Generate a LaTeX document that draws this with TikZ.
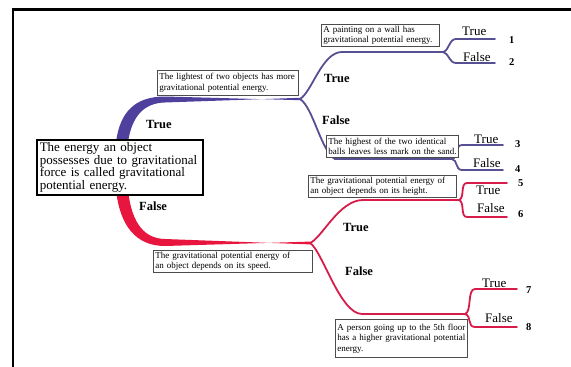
\documentclass[tikz,border=0pt]{standalone}
\usepackage{fontspec}
\setmainfont{Liberation Serif}
\definecolor{deeppurple}{RGB}{80,64,158}
\definecolor{thinpurple}{RGB}{86,80,146}
\definecolor{deepred}{RGB}{232,22,62}
\definecolor{thinred}{RGB}{215,28,74}

\begin{document}
\begin{tikzpicture}[x=1pt, y=-1pt,
		stmt/.style={draw=black!70, line width=0.8pt, fill=white, anchor=north west, inner xsep=2pt, inner ysep=0pt, align=left, font=\fontsize{9}{10.6}\selectfont},
		ans/.style={anchor=base west, inner sep=0pt, font=\fontsize{13}{14}\selectfont},
		branchlbl/.style={anchor=base west, inner sep=0pt, font=\fontsize{12.5}{14}\selectfont\bfseries},
		num/.style={anchor=base west, inner sep=0pt, font=\fontsize{10.5}{12}\selectfont\bfseries},
		thinp/.style={line width=1.8pt, color=thinpurple, line cap=round},
		thinr/.style={line width=1.8pt, color=thinred, line cap=round}]
			%%%%% START %%%%%
			\useasboundingbox (0, 0) rectangle (571, 367);
			
			% frame
			\draw[line width=2.2pt] (13, 367) -- (13, 9.5) -- (571, 9.5);
			
			% split points and leaf ends
			\coordinate (sLight) at (300, 99);
			\coordinate (sPaint) at (443, 52);
			\coordinate (sHigh) at (452, 159);
			\coordinate (sSpeed) at (310, 243);
			\coordinate (sHeight) at (459, 200);
			\coordinate (sFloor) at (465, 314);
			
			\coordinate (e1) at (495, 39);
			\coordinate (e2) at (495, 63);
			\coordinate (e3) at (503, 145);
			\coordinate (e4) at (503, 170);
			\coordinate (e5) at (507, 183);
			\coordinate (e6) at (507, 217);
			\coordinate (e7) at (517, 289);
			\coordinate (e8) at (517, 327);
			
			% thick branches out of the root
			\fill[deeppurple] (116, 142) .. controls (120, 112) and (135, 96.5) .. (165, 96.5) -- ([yshift=-1.2pt]sLight)
				-- ([yshift=1.2pt]sLight) -- (165, 102.5) .. controls (144, 103) and (132, 116) .. (128, 142) -- cycle;
			\fill[deepred] (116, 190) .. controls (120, 226) and (136, 246) .. (165, 246) -- ([yshift=1.4pt]sSpeed)
				-- ([yshift=-1.4pt]sSpeed) -- (165, 239) .. controls (146, 238.5) and (132, 226) .. (128, 190) -- cycle;
			
			% purple side
			\draw[thinp] (sLight) .. controls +(12,-7) and +(-20,0) .. ([xshift=-101pt]sPaint) -- (sPaint);
			\draw[thinp] (sLight) .. controls +(13,8) and +(-14,-8) .. ([xshift=-117pt]sHigh) -- (sHigh);
			\draw[thinp] (sPaint) .. controls +(6,-1) and +(-7,0) .. ([xshift=-39pt]e1) -- (e1);
			\draw[thinp] (sPaint) .. controls +(6,1) and +(-7,0) .. ([xshift=-39pt]e2) -- (e2);
			\draw[thinp] (sHigh) .. controls +(6,-1) and +(-7,0) .. ([xshift=-41pt]e3) -- (e3);
			\draw[thinp] (sHigh) .. controls +(6,1) and +(-7,0) .. ([xshift=-41pt]e4) -- (e4);
			
			% red side
			\draw[thinr] (sSpeed) .. controls +(12,-5) and +(-24,0) .. ([xshift=-96pt]sHeight) -- (sHeight);
			\draw[thinr] (sSpeed) .. controls +(12,7) and +(-22,0) .. ([xshift=-103pt]sFloor) -- (sFloor);
			\draw[thinr] (sHeight) .. controls +(6,-2) and +(-7,0) .. ([xshift=-40pt]e5) -- (e5);
			\draw[thinr] (sHeight) .. controls +(6,2) and +(-7,0) .. ([xshift=-40pt]e6) -- (e6);
			\draw[thinr] (sFloor) .. controls +(7,-2) and +(-8,0) .. ([xshift=-42pt]e7) -- (e7);
			\draw[thinr] (sFloor) .. controls +(7,2) and +(-8,0) .. ([xshift=-42pt]e8) -- (e8);
			
			% statements
			\node[draw=black, line width=1.6pt, fill=white, anchor=north west, inner xsep=3pt, inner ysep=0pt, align=left,
				text width=160pt, minimum height=55pt, font=\fontsize{13}{12.4}\selectfont] (root) at (36, 139)
				{\mbox{The energy an object}\\\mbox{possesses due to gravitational}\\\mbox{force is called gravitational}\\\mbox{potential energy.}};
			
			\node[stmt, text width=137pt, minimum height=25pt] (qLight) at (157, 70)
				{\mbox{The lightest of two objects has more}\\\mbox{gravitational potential energy.}};
			\node[stmt, text width=114pt, minimum height=22pt] (qPaint) at (321, 24)
				{\mbox{A painting on a wall has}\\\mbox{gravitational potential energy.}};
			\node[stmt, text width=128pt, minimum height=22pt] (qHigh) at (326, 135)
				{\mbox{The highest of the two identical}\\\mbox{balls leaves less mark on the sand.}};
			\node[stmt, text width=144pt, minimum height=22pt] (qHeight) at (308, 175)
				{\mbox{The gravitational potential energy of}\\\mbox{an object depends on its height.}};
			\node[stmt, text width=155pt, minimum height=22pt] (qSpeed) at (153, 250)
				{\mbox{The gravitational potential energy of}\\\mbox{an object depends on its speed.}};
			\node[stmt, text width=128pt, minimum height=38pt] (qFloor) at (335, 319)
				{\mbox{A person going up to the 5th floor}\\\mbox{has a higher gravitational potential}\\\mbox{energy.}};
			
			% branch labels
			\node[branchlbl] (tRoot) at (146, 128) {True};
			\node[branchlbl] (fRoot) at (139, 210) {False};
			\node[branchlbl] (tLight) at (324, 82) {True};
			\node[branchlbl] (fLight) at (322, 124) {False};
			\node[branchlbl] (tSpeed) at (343, 231) {True};
			\node[branchlbl] (fSpeed) at (345, 275) {False};
			
			% answers
			\node[ans] (a1) at (462, 35) {True};
			\node[ans] (a2) at (463, 61) {False};
			\node[ans] (a3) at (474, 143) {True};
			\node[ans] (a4) at (473, 167) {False};
			\node[ans] (a5) at (476, 194) {True};
			\node[ans] (a6) at (477, 212) {False};
			\node[ans] (a7) at (482, 287) {True};
			\node[ans] (a8) at (485, 322) {False};
			
			\node[num] (n1) at (509, 43) {1};
			\node[num] (n2) at (509, 65) {2};
			\node[num] (n3) at (515, 147) {3};
			\node[num] (n4) at (515, 172) {4};
			\node[num] (n5) at (518, 186) {5};
			\node[num] (n6) at (518, 217) {6};
			\node[num] (n7) at (526, 293) {7};
			\node[num] (n8) at (526, 330) {8};
			%%%%% END %%%%%
\end{tikzpicture}
\end{document}
